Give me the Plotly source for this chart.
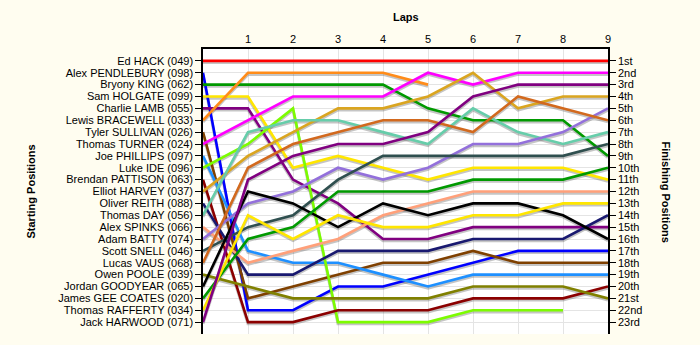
import plotly.graph_objects as go

# Lap numbers (0 = starting grid)
laps = list(range(10))

# Starting grid, in order
drivers = [
    "Ed HACK (049)", "Alex PENDLEBURY (098)", "Bryony KING (062)", "Sam HOLGATE (099)",
    "Charlie LAMB (055)", "Lewis BRACEWELL (033)", "Tyler SULLIVAN (026)", "Thomas TURNER (024)",
    "Joe PHILLIPS (097)", "Luke IDE (096)", "Brendan PATTISON (063)", "Elliot HARVEY (037)",
    "Oliver REITH (088)", "Thomas DAY (056)", "Alex SPINKS (066)", "Adam BATTY (074)",
    "Scott SNELL (046)", "Lucas VAUS (068)", "Owen POOLE (039)", "Jordan GOODYEAR (065)",
    "James GEE COATES (020)", "Thomas RAFFERTY (034)", "Jack HARWOOD (071)",
]

# Position at the end of each lap (None = retired)
hack       = [1, 1, 1, 1, 1, 1, 1, 1, 1, 1]
pendlebury = [2, 22, 22, 20, 20, 19, 18, 17, 17, 17]
king       = [3, 3, 3, 3, 3, 5, 6, 6, 6, 9]
holgate    = [4, 4, 10, 9, 10, 11, 10, 10, 10, 11]
lamb       = [5, 5, 11, 13, 16, 16, 15, 15, 15, 15]
bracewell  = [6, 2, 2, 2, 2, 3, None, None, None, None]
sullivan   = [7, 21, 20, 19, 18, 18, 17, 18, 18, 18]
turner     = [8, 6, 4, 4, 4, 2, 3, 2, 2, 2]
phillips   = [9, 17, 18, 18, 19, 20, 19, 19, 19, 19]
ide        = [10, 8, 5, 23, 23, 23, 22, 22, 22, None]
pattison   = [11, 23, 23, 22, 22, 22, 21, 21, 21, 20]
harvey     = [12, 9, 7, 5, 5, 4, 2, 5, 4, 4]
reith      = [13, 19, 19, 17, 17, 17, 16, 16, 16, 14]
day        = [14, 7, 6, 6, 7, 8, 5, 7, 8, 7]
spinks     = [15, 18, 17, 16, 14, 13, 12, 12, 12, 12]
batty      = [16, 13, 12, 10, 11, 10, 8, 8, 7, 5]
snell      = [17, 15, 14, 11, 9, 9, 9, 9, 9, 8]
vaus       = [18, 10, 8, 7, 6, 6, 7, 4, 5, 6]
poole      = [19, 20, 21, 21, 21, 21, 20, 20, 20, 21]
goodyear   = [20, 12, 13, 15, 13, 14, 13, 13, 14, 16]
gee_coates = [21, 16, 15, 12, 12, 12, 11, 11, 11, 10]
rafferty   = [22, 14, 16, 14, 15, 15, 14, 14, 13, 13]
harwood    = [23, 11, 9, 8, 8, 7, 4, 3, 3, 3]

series = [hack, pendlebury, king, holgate, lamb, bracewell, sullivan, turner,
          phillips, ide, pattison, harvey, reith, day, spinks, batty, snell,
          vaus, poole, goodyear, gee_coates, rafferty, harwood]

colors = [
    "#FF0000", "#0000FF", "#009900", "#FFE600", "#800080", "#FF8C1A", "#7F4000", "#FF00FF",
    "#1E90FF", "#7CFC00", "#8B0000", "#DAA520", "#191970", "#66CDAA", "#FFA07A", "#9370DB",
    "#2F4F4F", "#D2691E", "#808000", "#000000", "#009900", "#FFE600", "#800080",
]

finish_labels = ["1st", "2nd", "3rd"] + [f"{i}th" for i in range(4, 21)] + ["21st", "22nd", "23rd"]
grid_positions = list(range(1, 24))

SHADOW_DY = 0.14  # drop shadow offset, in positions

fig = go.Figure()

# soft drop shadows under every line
for pos in series:
    fig.add_trace(go.Scatter(
        x=laps, y=[None if p is None else p + SHADOW_DY for p in pos],
        mode="lines", line=dict(color="rgba(90,90,90,0.35)", width=3),
        hoverinfo="skip", showlegend=False,
    ))

for name, pos, col in zip(drivers, series, colors):
    fig.add_trace(go.Scatter(
        x=laps, y=pos, mode="lines", name=name,
        line=dict(color=col, width=2.6), showlegend=False,
    ))

# invisible trace that carries the finishing-position axis
fig.add_trace(go.Scatter(x=[None], y=[None], yaxis="y2", showlegend=False, hoverinfo="skip"))

font = dict(family="Liberation Sans, Arial, sans-serif", size=11, color="#000000")
title_font = dict(family="Liberation Sans, Arial, sans-serif", size=11, color="#000000")

fig.update_layout(
    width=700, height=345,
    margin=dict(l=203, r=92, t=49, b=11),
    paper_bgcolor="#FFFDF0",
    plot_bgcolor="#FFFFFF",
    font=font,
    showlegend=False,
    xaxis=dict(
        side="top", range=[0, 9], tickvals=list(range(1, 10)),
        showgrid=True, gridcolor="#E4E4E4", gridwidth=1,
        showline=True, linecolor="#000000", linewidth=1.5,
        ticks="", zeroline=False, tickfont=font, fixedrange=True,
    ),
    yaxis=dict(
        range=[24, 0], tickvals=grid_positions, ticktext=drivers,
        showgrid=True, gridcolor="#E4E4E4", gridwidth=1,
        showline=True, linecolor="#000000", linewidth=1.5,
        ticks="outside", ticklen=6, tickcolor="#000000",
        zeroline=False, tickfont=font, fixedrange=True,
    ),
    yaxis2=dict(
        overlaying="y", side="right", range=[24, 0],
        tickvals=grid_positions, ticktext=finish_labels,
        showgrid=False, showline=True, linecolor="#000000", linewidth=1.5,
        ticks="outside", ticklen=6, tickcolor="#000000",
        zeroline=False, tickfont=font, fixedrange=True,
    ),
    annotations=[
        dict(text="<b>Laps</b>", x=0.5, y=1, xref="paper", yref="paper",
             xanchor="center", yanchor="middle", yshift=32,
             showarrow=False, font=title_font),
        dict(text="<b>Starting Positions</b>", x=0, y=0.5, xref="paper", yref="paper",
             xanchor="center", yanchor="middle", xshift=-173,
             showarrow=False, textangle=-90, font=title_font),
        dict(text="<b>Finishing Positions</b>", x=1, y=0.5, xref="paper", yref="paper",
             xanchor="center", yanchor="middle", xshift=58,
             showarrow=False, textangle=90, font=title_font),
    ],
)

fig.write_html("out.html")
